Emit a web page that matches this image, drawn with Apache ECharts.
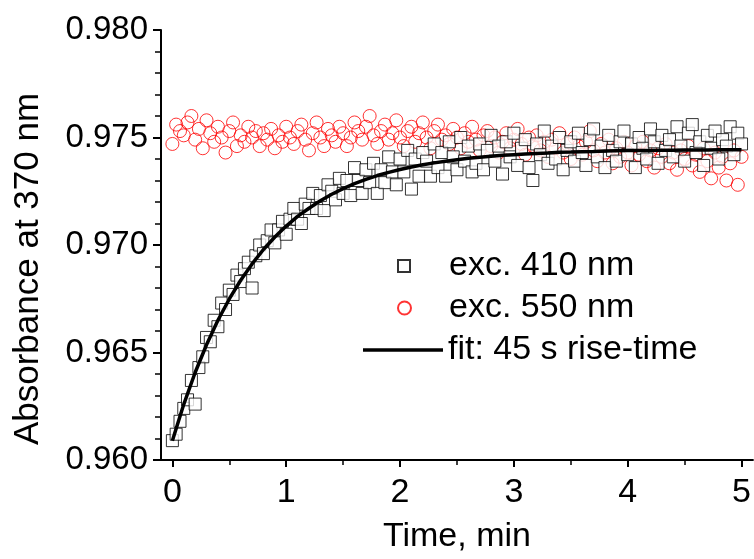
<!DOCTYPE html>
<html>
<head>
<meta charset="utf-8">
<script src="https://cdn.jsdelivr.net/npm/echarts@6/dist/echarts.min.js"></script>
<style>
html,body{margin:0;padding:0;background:#fff;}
#chart{width:754px;height:559px;}
</style>
</head>
<body>
<div id="chart"></div>
<script>
// ---- data ----
var times = [
0,0.033,0.067,0.1,0.133,0.167,0.2,0.233,0.267,0.3,0.333,0.367,0.4,0.433,0.467,0.5,0.533,0.567,0.6,0.633,0.667,0.7,0.733,0.767,0.8,0.833,0.867,0.9,0.933,0.967,
1,1.033,1.067,1.1,1.133,1.167,1.2,1.233,1.267,1.3,1.333,1.367,1.4,1.433,1.467,1.5,1.533,1.567,1.6,1.633,1.667,1.7,1.733,1.767,1.8,1.833,1.867,1.9,1.933,1.967,
2,2.033,2.067,2.1,2.133,2.167,2.2,2.233,2.267,2.3,2.333,2.367,2.4,2.433,2.467,2.5,2.533,2.567,2.6,2.633,2.667,2.7,2.733,2.767,2.8,2.833,2.867,2.9,2.933,2.967,
3,3.033,3.067,3.1,3.133,3.167,3.2,3.233,3.267,3.3,3.333,3.367,3.4,3.433,3.467,3.5,3.533,3.567,3.6,3.633,3.667,3.7,3.733,3.767,3.8,3.833,3.867,3.9,3.933,3.967,
4,4.033,4.067,4.1,4.133,4.167,4.2,4.233,4.267,4.3,4.333,4.367,4.4,4.433,4.467,4.5,4.533,4.567,4.6,4.633,4.667,4.7,4.733,4.767,4.8,4.833,4.867,4.9,4.933,4.967,
5];

var exc410 = [
0.9609,0.9612,0.9618,0.9624,0.9628,0.9637,0.9626,0.9643,0.9648,0.9657,
0.9655,0.9665,0.9662,0.9673,0.9670,0.9679,0.9677,0.9686,0.9683,0.9689,
0.9692,0.9680,0.9695,0.9700,0.9696,0.9702,0.9707,0.9701,0.9707,0.9711,
0.9705,0.9712,0.9717,0.9712,0.9710,0.9719,0.9717,0.9724,0.9717,0.9723,
0.9716,0.9728,0.9725,0.9721,0.9731,0.9724,0.9730,0.9723,0.9736,0.9730,
0.9724,0.9735,0.9729,0.9738,0.9724,0.9735,0.9729,0.9741,0.9734,0.9728,
0.9740,0.9734,0.9744,0.9726,0.9740,0.9732,0.9743,0.9739,0.9732,0.9747,
0.9736,0.9743,0.9732,0.9748,0.9741,0.9735,0.9750,0.9739,0.9746,0.9734,
0.9738,0.9747,0.9735,0.9744,0.9751,0.9739,0.9746,0.9733,0.9748,0.9741,
0.9752,0.9737,0.9745,0.9749,0.9736,0.9730,0.9747,0.9742,0.9753,0.9738,
0.9746,0.9740,0.9750,0.9735,0.9744,0.9748,0.9739,0.9752,0.9743,0.9737,
0.9749,0.9754,0.9741,0.9746,0.9736,0.9751,0.9744,0.9739,0.9748,0.9753,
0.9742,0.9747,0.9736,0.9750,0.9745,0.9740,0.9754,0.9748,0.9738,0.9751,
0.9744,0.9749,0.9741,0.9755,0.9746,0.9739,0.9752,0.9756,0.9743,0.9748,
0.9737,0.9751,0.9745,0.9753,0.9740,0.9749,0.9746,0.9755,0.9742,0.9752,0.9747];

var exc550 = [
0.9747,0.9756,0.9753,0.9751,0.9757,0.9760,0.9749,0.9754,0.9745,0.9758,
0.9752,0.9748,0.9755,0.9750,0.9743,0.9753,0.9757,0.9746,0.9751,0.9748,
0.9755,0.9750,0.9753,0.9746,0.9752,0.9749,0.9754,0.9745,0.9751,0.9748,
0.9755,0.9750,0.9747,0.9753,0.9756,0.9749,0.9744,0.9752,0.9757,0.9750,
0.9746,0.9754,0.9751,0.9748,0.9755,0.9752,0.9746,0.9750,0.9757,0.9753,
0.9749,0.9755,0.9760,0.9751,0.9747,0.9753,0.9756,0.9749,0.9752,0.9758,
0.9750,0.9746,0.9753,0.9755,0.9748,0.9752,0.9757,0.9750,0.9745,0.9753,
0.9756,0.9749,0.9751,0.9747,0.9754,0.9750,0.9745,0.9752,0.9748,0.9755,
0.9749,0.9744,0.9751,0.9753,0.9746,0.9750,0.9743,0.9748,0.9752,0.9745,
0.9749,0.9754,0.9747,0.9742,0.9750,0.9746,0.9751,0.9744,0.9748,0.9741,
0.9749,0.9745,0.9752,0.9743,0.9747,0.9740,0.9750,0.9746,0.9742,0.9748,
0.9753,0.9744,0.9739,0.9747,0.9743,0.9749,0.9738,0.9745,0.9741,0.9748,
0.9743,0.9737,0.9746,0.9742,0.9748,0.9739,0.9744,0.9736,0.9745,0.9741,
0.9747,0.9738,0.9743,0.9735,0.9744,0.9740,0.9746,0.9737,0.9742,0.9734,
0.9745,0.9739,0.9731,0.9743,0.9736,0.9741,0.9730,0.9738,0.9744,0.9728,0.9741];

var fitTimes = [0,0.1,0.2,0.3,0.4,0.5,0.6,0.7,0.8,0.9,1,1.1,1.2,1.3,1.4,1.5,1.6,1.7,1.8,1.9,
2,2.1,2.2,2.3,2.4,2.5,2.6,2.7,2.8,2.9,3,3.1,3.2,3.3,3.4,3.5,3.6,3.7,3.8,3.9,
4,4.1,4.2,4.3,4.4,4.5,4.6,4.7,4.8,4.9,5];
var fitValues = [
0.96090,0.96259,0.96407,0.96536,0.96650,0.96749,0.96836,0.96912,0.96979,0.97037,
0.97088,0.97133,0.97171,0.97206,0.97236,0.97262,0.97285,0.97305,0.97323,0.97338,
0.97351,0.97363,0.97373,0.97382,0.97390,0.97397,0.97403,0.97408,0.97413,0.97417,
0.97420,0.97423,0.97426,0.97428,0.97431,0.97432,0.97434,0.97435,0.97437,0.97438,
0.97439,0.97439,0.97440,0.97441,0.97441,0.97442,0.97442,0.97442,0.97443,0.97443,
0.97443];

var xTickValues = [0,1,2,3,4,5];
var xMinorTickValues = [0.5,1.5,2.5,3.5,4.5];
var seriesNames = ['exc. 410 nm','exc. 550 nm','fit: 45 s rise-time'];

// ---- build ----
function pairs(xs, ys){ return xs.map(function(x,i){ return [x, ys[i]]; }); }
var FONT = '"Liberation Sans", Arial, sans-serif';
var legendText = {color:'#000', fontSize:34, fontFamily:FONT, lineHeight:34};
function symbolLegendText(){ return {color:'#000', fontSize:34, fontFamily:FONT, lineHeight:34, padding:[0,0,0,34]}; }

var chart = echarts.init(document.getElementById('chart'), null, {renderer:'canvas'});
chart.setOption({
  animation:false,
  backgroundColor:'#fff',
  textStyle:{fontFamily:FONT, color:'#000'},
  grid:{left:161, right:0, top:30, bottom:92, containLabel:false},
  xAxis:[{
    type:'value', min:-0.1, max:5.1, position:'bottom',
    axisLine:{onZero:false, lineStyle:{color:'#000', width:2}},
    axisTick:{customValues:xTickValues, length:7, lineStyle:{color:'#000', width:2}},
    axisLabel:{customValues:xTickValues, formatter:function(v){return String(v);}, margin:16,
      color:'#000', fontSize:34, fontFamily:FONT},
    splitLine:{show:false},
    name:'Time, min', nameLocation:'middle', nameGap:60,
    nameTextStyle:{color:'#000', fontSize:34, fontFamily:FONT}
  },{
    type:'value', min:-0.1, max:5.1, position:'bottom',
    axisLine:{show:false, onZero:false},
    axisTick:{customValues:xMinorTickValues, length:5, lineStyle:{color:'#000', width:1.5}},
    axisLabel:{show:false},
    splitLine:{show:false}
  }],
  yAxis:{
    type:'value', min:0.96, max:0.98, interval:0.005,
    axisLine:{onZero:false, lineStyle:{color:'#000', width:2}},
    axisTick:{length:8, lineStyle:{color:'#000', width:2}},
    minorTick:{show:true, splitNumber:5, length:6, lineStyle:{color:'#000', width:1.5}},
    minorSplitLine:{show:false},
    splitLine:{show:false},
    axisLabel:{formatter:function(v){return v.toFixed(3);}, margin:13, color:'#000', fontSize:33, fontFamily:FONT},
    name:'Absorbance at 370 nm', nameLocation:'middle', nameGap:115,
    nameTextStyle:{color:'#000', fontSize:35, fontFamily:FONT, padding:[0,48,0,0]}
  },
  legend:[{
    data:[{name:seriesNames[0], icon:'rect'}], left:397, top:249, padding:0,
    itemWidth:12, itemHeight:12, textStyle:symbolLegendText(), selectedMode:false
  },{
    data:[{name:seriesNames[1], icon:'circle'}], left:397, top:291, padding:0,
    itemWidth:13, itemHeight:13, textStyle:{color:'#000', fontSize:34, fontFamily:FONT, lineHeight:34, padding:[0,0,0,33]}, selectedMode:false
  },{
    data:[{name:seriesNames[2], icon:'rect'}], left:363, top:333, padding:0,
    itemWidth:80, itemHeight:3.5, textStyle:legendText, selectedMode:false
  }],
  series:[{
    name:seriesNames[1], type:'scatter', data:pairs(times, exc550),
    symbol:'circle', symbolSize:13,
    itemStyle:{color:'rgba(255,255,255,0)', borderColor:'#ff0000', borderWidth:1},
    emphasis:{disabled:true}
  },{
    name:seriesNames[0], type:'scatter', data:pairs(times, exc410),
    symbol:'rect', symbolSize:12,
    itemStyle:{color:'#fff', borderColor:'#000', borderWidth:1},
    emphasis:{disabled:true}
  },{
    name:seriesNames[2], type:'line', data:pairs(fitTimes, fitValues),
    symbol:'none', smooth:false,
    lineStyle:{color:'#000', width:3.5},
    itemStyle:{color:'#000'},
    emphasis:{disabled:true}, z:3
  }]
});
</script>
</body>
</html>
